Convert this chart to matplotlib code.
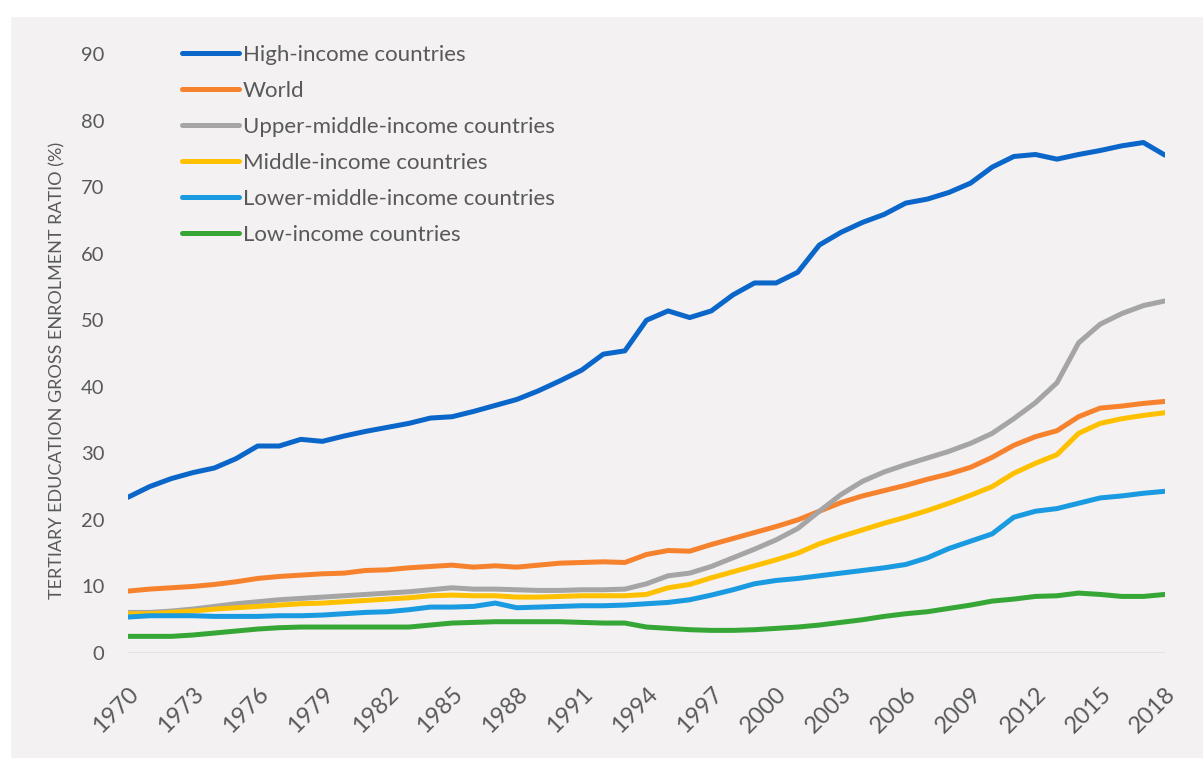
import matplotlib.pyplot as plt
from matplotlib.patches import Rectangle

import matplotlib as mpl
mpl.rcParams['font.family'] = ['Lato', 'DejaVu Sans']

years = list(range(1970, 2019))

high_income = [23.4, 25.0, 26.2, 27.1, 27.8, 29.2, 31.1, 31.1, 32.1, 31.8,
               32.6, 33.3, 33.9, 34.5, 35.3, 35.5, 36.3, 37.2, 38.1, 39.4,
               40.9, 42.5, 44.9, 45.4, 50.0, 51.4, 50.4, 51.4, 53.8, 55.6,
               55.6, 57.2, 61.3, 63.2, 64.7, 65.9, 67.6, 68.2, 69.2, 70.6,
               73.0, 74.6, 74.9, 74.2, 74.9, 75.5, 76.2, 76.7, 74.8]
world = [9.3, 9.6, 9.8, 10.0, 10.3, 10.7, 11.2, 11.5, 11.7, 11.9,
         12.0, 12.4, 12.5, 12.8, 13.0, 13.2, 12.9, 13.1, 12.9, 13.2,
         13.5, 13.6, 13.7, 13.6, 14.8, 15.4, 15.3, 16.3, 17.2, 18.1,
         19.0, 20.0, 21.3, 22.6, 23.6, 24.4, 25.2, 26.1, 26.9, 27.9,
         29.4, 31.2, 32.5, 33.4, 35.5, 36.8, 37.1, 37.5, 37.8]
upper_middle = [6.1, 6.1, 6.3, 6.6, 7.0, 7.4, 7.7, 8.0, 8.2, 8.4,
                8.6, 8.8, 9.0, 9.2, 9.5, 9.8, 9.6, 9.6, 9.5, 9.4,
                9.4, 9.5, 9.5, 9.6, 10.4, 11.6, 12.0, 13.0, 14.3, 15.6,
                17.0, 18.7, 21.3, 23.8, 25.8, 27.2, 28.3, 29.3, 30.3, 31.5,
                33.0, 35.2, 37.6, 40.6, 46.6, 49.4, 51.0, 52.2, 52.9]
middle = [5.9, 5.9, 6.1, 6.3, 6.6, 6.8, 7.0, 7.2, 7.4, 7.5,
          7.7, 7.9, 8.1, 8.3, 8.6, 8.7, 8.6, 8.6, 8.4, 8.4,
          8.5, 8.6, 8.6, 8.6, 8.8, 9.8, 10.3, 11.3, 12.2, 13.1,
          14.0, 15.0, 16.4, 17.5, 18.5, 19.5, 20.4, 21.4, 22.5, 23.7,
          25.0, 27.0, 28.5, 29.8, 33.0, 34.5, 35.2, 35.7, 36.1]
lower_middle = [5.4, 5.6, 5.6, 5.6, 5.5, 5.5, 5.5, 5.6, 5.6, 5.7,
                5.9, 6.1, 6.2, 6.5, 6.9, 6.9, 7.0, 7.5, 6.8, 6.9,
                7.0, 7.1, 7.1, 7.2, 7.4, 7.6, 8.0, 8.7, 9.5, 10.4,
                10.9, 11.2, 11.6, 12.0, 12.4, 12.8, 13.3, 14.3, 15.7, 16.8,
                17.9, 20.4, 21.3, 21.7, 22.5, 23.3, 23.6, 24.0, 24.3]
low_income = [2.5, 2.5, 2.5, 2.7, 3.0, 3.3, 3.6, 3.8, 3.9, 3.9,
              3.9, 3.9, 3.9, 3.9, 4.2, 4.5, 4.6, 4.7, 4.7, 4.7,
              4.7, 4.6, 4.5, 4.5, 3.9, 3.7, 3.5, 3.4, 3.4, 3.5,
              3.7, 3.9, 4.2, 4.6, 5.0, 5.5, 5.9, 6.2, 6.7, 7.2,
              7.8, 8.1, 8.5, 8.6, 9.0, 8.8, 8.5, 8.5, 8.8]

series = [
    dict(data=high_income, label="High-income countries", color="#0a66c9"),
    dict(data=world, label="World", color="#f7822e"),
    dict(data=upper_middle, label="Upper-middle-income countries", color="#a5a5a5"),
    dict(data=middle, label="Middle-income countries", color="#ffc000"),
    dict(data=lower_middle, label="Lower-middle-income countries", color="#1a9ae0"),
    dict(data=low_income, label="Low-income countries", color="#36a737"),
]

bg = "#f3f1f1"
text_c = "#595959"

f = plt.figure(figsize=(12.03, 7.58), dpi=100, facecolor=bg)
# white margin on top and left of the grey panel
f.patches.append(Rectangle((0, 1 - 16 / 758), 1, 16 / 758, transform=f.transFigure,
                           color="white", zorder=0))
f.patches.append(Rectangle((0, 0), 10 / 1203, 1, transform=f.transFigure,
                           color="white", zorder=0))

ax = f.add_axes([128 / 1203, 105 / 758, 1037 / 1203, 599 / 758])
ax.set_facecolor(bg)

ax.axhline(0, color="#e4e2e2", lw=1.5, zorder=0)

for d in series:
    ax.plot(years, d["data"], lw=3.6, color=d["color"], label=d["label"],
            solid_capstyle="round", solid_joinstyle="round")

ax.set_xlim(1970, 2018)
ax.set_ylim(0, 90)
ax.set_yticks(range(0, 91, 10))
ax.set_xticks(years[::3], [str(y) for y in years[::3]], rotation=45,
              ha="right", va="top", rotation_mode="anchor")
ax.tick_params(axis="y", length=0, pad=17, labelsize=14.5, labelcolor=text_c)
ax.tick_params(axis="x", length=0, pad=22, labelsize=17, labelcolor=text_c)
for s in ax.spines.values():
    s.set_visible(False)

f.text(57 / 1203, 1 - 370 / 758, "TERTIARY EDUCATION GROSS ENROLMENT RATIO (%)",
       rotation=90, ha="center", va="center", fontsize=13, color=text_c)

ax.legend(loc="upper left", bbox_to_anchor=(182 / 1203, 1 - 45 / 758),
          bbox_transform=f.transFigure, frameon=False, fontsize=16,
          handlelength=2.55, handletextpad=0.2, labelspacing=0.72,
          borderpad=0, borderaxespad=0, labelcolor=text_c)

f.savefig("out.png", dpi=100, facecolor=bg)
